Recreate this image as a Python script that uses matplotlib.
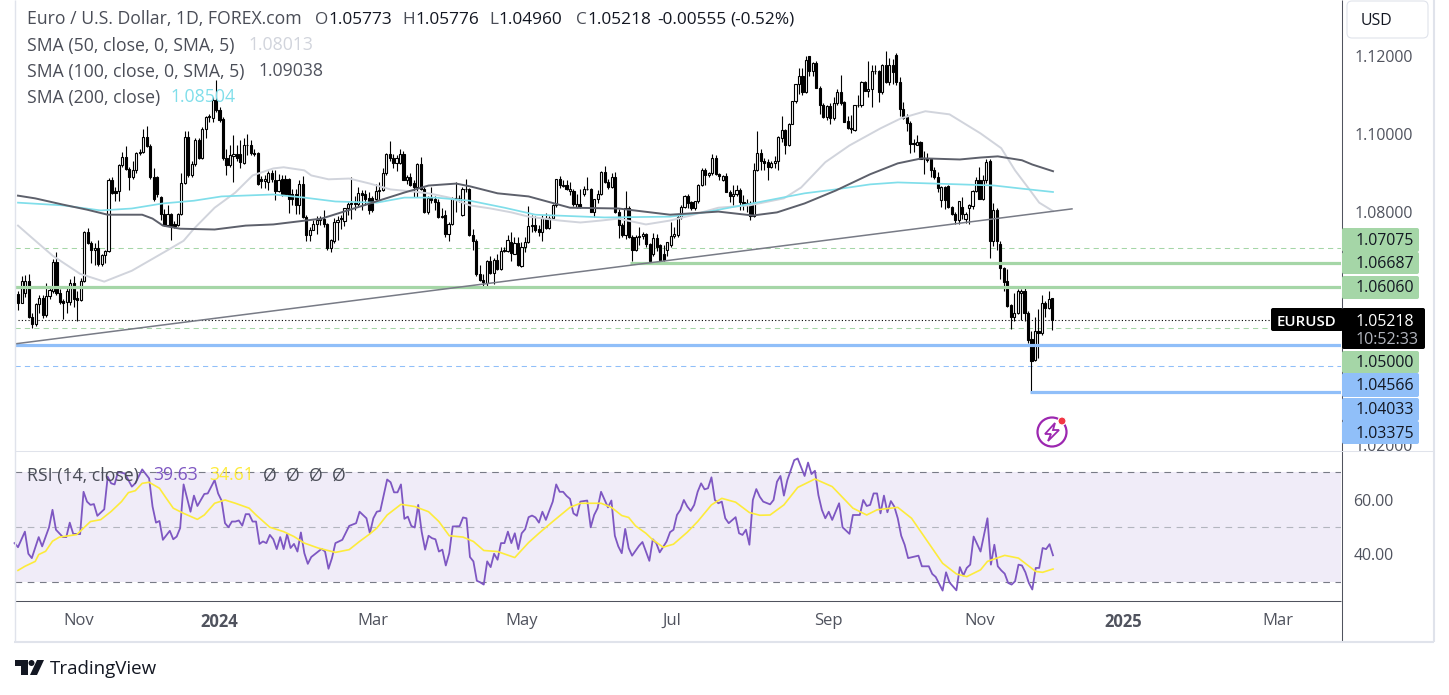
import numpy as np
import matplotlib
matplotlib.use("Agg")
import matplotlib.pyplot as plt
from matplotlib.patches import FancyBboxPatch, Polygon, Circle, Rectangle

plt.rcParams['font.family'] = ['Open Sans', 'DejaVu Sans']

opens = [1.0589,1.0566,1.0590,1.0621,1.0529,1.0511,1.0563,1.0578,1.0535,1.0584,
1.0597,1.0671,1.0591,1.0569,1.0567,1.0567,1.0616,1.0578,1.0572,1.0621,
1.0748,1.0720,1.0701,1.0707,1.0666,1.0688,1.0698,1.0880,1.0853,1.0853,
1.0919,1.0941,1.0910,1.0889,1.0906,1.0950,1.0954,1.0993,1.0969,1.0890,
1.0889,1.0838,1.0795,1.0766,1.0795,1.0768,1.0766,1.0795,1.0874,1.0993,
1.0893,1.0922,1.0984,1.0939,1.1012,1.1042,1.1040,1.1086,1.1061,1.1037,
1.0939,1.0919,1.0944,1.0947,1.0947,1.0925,1.0970,1.0970,1.0950,1.0950,
1.0885,1.0878,1.0876,1.0898,
1.0882,1.0853,1.0885,1.0883,1.0885,1.0844,1.0844,1.0817,1.0870,1.0786,
1.0739,1.0753,1.0769,1.0778,1.0782,1.0769,1.0707,1.0724,1.0772,1.0784,
1.0775,1.0808,1.0819,1.0820,1.0819,1.0849,1.0844,1.0835,1.0835,1.0833,
1.0853,1.0855,1.0898,1.0948,1.0937,1.0926,1.0926,1.0948,1.0882,1.0888,
1.0874,1.0862,1.0922,1.0859,1.0799,1.0836,1.0832,1.0825,1.0788,1.0790,
1.0743,1.0769,1.0835,1.0836,1.0790,1.0857,1.0857,1.0739,1.0724,1.0640,
1.0623,1.0616,1.0672,1.0642,1.0676,1.0653,1.0700,1.0698,1.0722,1.0692,
1.0719,1.0661,1.0709,1.0722,
1.0762,1.0766,1.0756,1.0747,1.0784,1.0759,1.0784,1.0816,1.0883,1.0866,
1.0868,1.0852,1.0852,1.0812,1.0819,1.0846,1.0857,1.0857,1.0799,1.0832,
1.0846,1.0903,1.0876,1.0863,1.0888,1.0799,1.0765,1.0739,1.0808,1.0735,
1.0702,1.0735,1.0736,1.0743,1.0717,1.0690,1.0733,1.0713,1.0690,1.0702,
1.0713,1.0738,1.0739,1.0786,1.0812,1.0839,1.0825,1.0810,1.0826,1.0868,
1.0907,1.0894,1.0898,1.0937,1.0896,1.0882,1.0891,1.0851,1.0839,1.0844,
1.0855,1.0825,1.0819,1.0822,1.0788,1.0908,1.0951,1.0931,1.0928,1.0915,
1.0926,1.0930,
1.0989,1.1010,1.0970,1.1026,1.1084,1.1127,1.1148,1.1108,1.1200,1.1161,
1.1181,1.1119,1.1075,1.1043,1.1071,1.1041,1.1080,1.1108,1.1083,1.1032,
1.1016,1.1009,1.1073,1.1073,1.1132,1.1111,1.1115,1.1161,1.1161,1.1108,
1.1178,1.1132,1.1176,1.1202,1.1132,1.1065,1.1043,1.1028,1.0976,1.0972,
1.0980,1.0936,1.0936,1.0934,1.0907,1.0888,1.0830,1.0862,1.0866,1.0811,
1.0795,1.0779,1.0813,1.0780,1.0808,1.0815,1.0854,1.0881,1.0832,1.0881,
1.0930,1.0725,1.0804,1.0717,1.0654,1.0622,1.0560,1.0528,1.0539,1.0592,
1.0595,1.0540,1.0472,1.0418,1.0493,1.0488,1.0565,1.0551,1.05773]

highs = [1.0595,1.0634,1.0638,1.0640,1.0540,1.0566,1.0586,1.0586,1.0616,1.0606,
1.0678,1.0695,1.0600,1.0576,1.0605,1.0627,1.0634,1.0595,1.0630,1.0750,
1.0758,1.0725,1.0720,1.0728,1.0690,1.0702,1.0887,1.0890,1.0864,1.0922,
1.0952,1.0969,1.0915,1.0930,1.0952,1.0960,1.1012,1.1019,1.0975,1.0913,
1.0892,1.0840,1.0806,1.0816,1.0797,1.0775,1.0797,1.0898,1.1008,1.1008,
1.0930,1.0990,1.0990,1.1017,1.1046,1.1052,1.1095,1.1138,1.1068,1.1043,
1.0960,1.0970,1.0996,1.0970,1.0983,1.0990,1.0999,1.0985,1.0962,1.0952,
1.0892,1.0893,1.0905,1.0908,
1.0906,1.0896,1.0895,1.0893,1.0887,1.0857,1.0857,1.0880,1.0891,1.0790,
1.0760,1.0778,1.0788,1.0788,1.0805,1.0771,1.0730,1.0784,1.0788,1.0790,
1.0808,1.0825,1.0889,1.0840,1.0862,1.0855,1.0855,1.0851,1.0840,1.0870,
1.0875,1.0913,1.0950,1.0982,1.0948,1.0945,1.0962,1.0956,1.0895,1.0898,
1.0880,1.0926,1.0941,1.0864,1.0840,1.0862,1.0840,1.0832,1.0808,1.0803,
1.0772,1.0838,1.0876,1.0842,1.0864,1.0885,1.0860,1.0756,1.0730,1.0664,
1.0640,1.0676,1.0687,1.0680,1.0690,1.0710,1.0709,1.0739,1.0747,1.0735,
1.0735,1.0722,1.0735,1.0814,
1.0790,1.0788,1.0766,1.0790,1.0796,1.0788,1.0820,1.0883,1.0891,1.0880,
1.0881,1.0876,1.0859,1.0846,1.0859,1.0866,1.0889,1.0860,1.0832,1.0855,
1.0905,1.0917,1.0885,1.0900,1.0902,1.0806,1.0770,1.0853,1.0814,1.0740,
1.0741,1.0760,1.0747,1.0746,1.0720,1.0745,1.0743,1.0716,1.0713,1.0722,
1.0773,1.0760,1.0790,1.0816,1.0842,1.0845,1.0828,1.0828,1.0870,1.0911,
1.0912,1.0903,1.0948,1.0945,1.0900,1.0893,1.0900,1.0855,1.0868,1.0868,
1.0860,1.0842,1.0833,1.0826,1.0925,1.1008,1.0960,1.0937,1.0935,1.0931,
1.0943,1.0994,
1.1047,1.1013,1.1028,1.1085,1.1129,1.1170,1.1170,1.1200,1.1200,1.1185,
1.1187,1.1122,1.1078,1.1075,1.1078,1.1095,1.1116,1.1152,1.1085,1.1047,
1.1049,1.1075,1.1100,1.1135,1.1135,1.1187,1.1176,1.1178,1.1163,1.1180,
1.1212,1.1194,1.1192,1.1207,1.1146,1.1082,1.1052,1.1032,1.0987,1.0996,
1.0982,1.0955,1.0950,1.0937,1.0914,1.0901,1.0865,1.0866,1.0869,1.0815,
1.0800,1.0828,1.0837,1.0800,1.0820,1.0855,1.0888,1.0914,1.0895,1.0936,
1.0936,1.0822,1.0809,1.0725,1.0657,1.0652,1.0562,1.0592,1.0601,1.0601,
1.0609,1.0545,1.0493,1.0529,1.0549,1.0586,1.0571,1.0596,1.05776]

lows = [1.0548,1.0564,1.0580,1.0526,1.0500,1.0507,1.0539,1.0526,1.0530,1.0575,
1.0592,1.0586,1.0563,1.0523,1.0539,1.0560,1.0556,1.0520,1.0570,1.0618,
1.0716,1.0668,1.0664,1.0659,1.0659,1.0668,1.0695,1.0845,1.0827,1.0827,
1.0915,1.0907,1.0855,1.0883,1.0900,1.0945,1.0950,1.0965,1.0883,1.0828,
1.0838,1.0778,1.0762,1.0764,1.0726,1.0758,1.0762,1.0792,1.0870,1.0890,
1.0890,1.0917,1.0936,1.0936,1.0988,1.1030,1.1030,1.1056,1.1030,1.0932,
1.0893,1.0915,1.0875,1.0930,1.0911,1.0922,1.0945,1.0945,1.0944,1.0869,
1.0860,1.0861,1.0855,1.0875,
1.0829,1.0850,1.0840,1.0842,1.0796,1.0816,1.0795,1.0793,1.0784,1.0724,
1.0724,1.0752,1.0743,1.0765,1.0760,1.0702,1.0696,1.0720,1.0726,1.0755,
1.0762,1.0790,1.0780,1.0805,1.0814,1.0803,1.0816,1.0795,1.0799,1.0831,
1.0829,1.0853,1.0895,1.0930,1.0911,1.0904,1.0922,1.0880,1.0870,1.0866,
1.0838,1.0838,1.0855,1.0797,1.0795,1.0821,1.0803,1.0784,1.0784,1.0735,
1.0724,1.0766,1.0800,1.0825,1.0788,1.0850,1.0737,1.0702,1.0635,1.0621,
1.0610,1.0608,1.0639,1.0615,1.0650,1.0650,1.0696,1.0695,1.0674,1.0690,
1.0660,1.0658,1.0695,1.0720,
1.0748,1.0748,1.0736,1.0725,1.0755,1.0756,1.0780,1.0813,1.0860,1.0862,
1.0855,1.0842,1.0815,1.0808,1.0808,1.0840,1.0855,1.0798,1.0785,1.0822,
1.0842,1.0874,1.0859,1.0860,1.0797,1.0733,1.0735,1.0730,1.0733,1.0673,
1.0700,1.0713,1.0730,1.0710,1.0672,1.0687,1.0700,1.0673,1.0673,1.0687,
1.0710,1.0733,1.0735,1.0782,1.0808,1.0808,1.0803,1.0805,1.0822,1.0866,
1.0868,1.0888,1.0895,1.0895,1.0882,1.0879,1.0850,1.0825,1.0816,1.0839,
1.0803,1.0803,1.0799,1.0779,1.0785,1.0905,1.0907,1.0907,1.0882,1.0911,
1.0911,1.0907,
1.0980,1.0948,1.0968,1.1024,1.1080,1.1103,1.1099,1.1105,1.1149,1.1149,
1.1117,1.1052,1.1040,1.1035,1.1026,1.1035,1.1075,1.1075,1.1030,1.1013,
1.1003,1.1006,1.1069,1.1070,1.1111,1.1095,1.1069,1.1155,1.1082,1.1103,
1.1130,1.1125,1.1129,1.1125,1.1046,1.1037,1.1006,1.0950,1.0953,1.0970,
1.0936,1.0897,1.0927,1.0888,1.0884,1.0851,1.0811,1.0807,1.0809,1.0790,
1.0768,1.0768,1.0781,1.0770,1.0768,1.0807,1.0850,1.0832,1.0830,1.0874,
1.0682,1.0712,1.0702,1.0626,1.0596,1.0556,1.0497,1.0519,1.0536,1.0522,
1.0519,1.0463,1.0335,1.0415,1.0424,1.0484,1.0528,1.0549,1.04960]

closes = [1.0566,1.0621,1.0621,1.0529,1.0511,1.0563,1.0578,1.0535,1.0584,1.0599,
1.0671,1.0591,1.0567,1.0565,1.0595,1.0616,1.0575,1.0573,1.0621,1.0748,
1.0720,1.0701,1.0707,1.0666,1.0688,1.0698,1.0880,1.0849,1.0849,1.0919,
1.0941,1.0910,1.0889,1.0906,1.0950,1.0954,1.0993,1.0969,1.0890,1.0833,
1.0846,1.0795,1.0766,1.0795,1.0762,1.0764,1.0795,1.0874,1.0993,1.0893,
1.0922,1.0984,1.0939,1.1012,1.1042,1.1046,1.1086,1.1061,1.1035,1.0939,
1.0919,1.0945,1.0947,1.0939,1.0927,1.0970,1.0972,1.0950,1.0948,1.0872,
1.0878,1.0885,1.0898,1.0885,
1.0853,1.0882,1.0844,1.0846,1.0833,1.0833,1.0817,1.0870,1.0786,1.0739,
1.0753,1.0769,1.0778,1.0783,1.0769,1.0707,1.0726,1.0772,1.0778,1.0780,
1.0808,1.0819,1.0821,1.0822,1.0849,1.0842,1.0833,1.0803,1.0805,1.0853,
1.0855,1.0898,1.0948,1.0937,1.0924,1.0937,1.0948,1.0882,1.0889,1.0868,
1.0862,1.0922,1.0859,1.0799,1.0836,1.0829,1.0825,1.0786,1.0786,1.0743,
1.0769,1.0835,1.0836,1.0835,1.0857,1.0858,1.0739,1.0724,1.0640,1.0623,
1.0618,1.0672,1.0642,1.0675,1.0653,1.0700,1.0702,1.0728,1.0693,1.0719,
1.0663,1.0709,1.0722,1.0762,
1.0766,1.0753,1.0747,1.0784,1.0759,1.0784,1.0816,1.0883,1.0868,1.0868,
1.0857,1.0857,1.0819,1.0819,1.0812,1.0857,1.0858,1.0799,1.0832,1.0846,
1.0903,1.0876,1.0863,1.0888,1.0799,1.0765,1.0739,1.0808,1.0735,1.0702,
1.0735,1.0736,1.0743,1.0717,1.0673,1.0733,1.0710,1.0676,1.0676,1.0722,
1.0738,1.0743,1.0786,1.0812,1.0839,1.0822,1.0810,1.0826,1.0868,1.0907,
1.0894,1.0898,1.0937,1.0896,1.0891,1.0891,1.0851,1.0839,1.0844,1.0855,
1.0825,1.0819,1.0822,1.0788,1.0908,1.0951,1.0931,1.0925,1.0915,1.0926,
1.0930,1.0991,
1.1010,1.0970,1.1026,1.1084,1.1127,1.1148,1.1108,1.1189,1.1161,1.1181,
1.1119,1.1075,1.1043,1.1071,1.1041,1.1080,1.1108,1.1080,1.1030,1.1016,
1.1013,1.1073,1.1074,1.1132,1.1111,1.1116,1.1161,1.1162,1.1108,1.1178,
1.1132,1.1176,1.1159,1.1132,1.1065,1.1041,1.1028,1.0974,1.0973,1.0980,
1.0936,1.0935,1.0932,1.0906,1.0888,1.0860,1.0862,1.0830,1.0811,1.0794,
1.0779,1.0826,1.0794,1.0795,1.0817,1.0854,1.0881,1.0832,1.0881,1.0927,
1.0725,1.0804,1.0725,1.0654,1.0620,1.0558,1.0528,1.0539,1.0596,1.0596,
1.0540,1.0471,1.0416,1.0493,1.0488,1.0565,1.0551,1.0575,1.05218]

sma50_bar = [0,4,10,18,25,33,43,48,51,57,63,68,74,77,83,85,90,96,102,108,114,119,125,131,137,143,148,157,163,169,174,182,189,195,203,212,222,227,234,241,250,256,263,270,279,285,289,293,296,300]
sma50 = [1.0764,1.0733,1.0687,1.0640,1.0620,1.0648,1.0699,1.0725,1.0756,1.0810,1.0849,1.0893,1.0911,1.0914,1.0906,1.0893,1.0883,1.0885,1.0872,1.0857,1.0852,1.0847,1.0836,1.0816,1.0808,1.0798,1.0787,1.0777,1.0772,1.0777,1.0782,1.0767,1.0777,1.0790,1.0810,1.0816,1.0834,1.0862,1.0927,1.0970,1.1014,1.1040,1.1058,1.1050,1.1001,1.0963,1.0906,1.0859,1.0823,1.08013]
sma100_bar = [0,5,13,20,26,36,39,42,47,57,66,74,88,102,112,119,127,131,139,148,160,174,189,203,213,220,228,237,247,255,262,273,279,284,291,294,300]
sma100 = [1.0841,1.0834,1.0818,1.0805,1.0792,1.0792,1.0782,1.0764,1.0756,1.0754,1.0764,1.0767,1.0782,1.0821,1.0849,1.0867,1.0872,1.0865,1.0847,1.0839,1.0810,1.0808,1.0792,1.0800,1.0790,1.0798,1.0821,1.0854,1.0896,1.0924,1.0937,1.0934,1.0939,1.0942,1.0932,1.0921,1.09038]
sma200_bar = [0,13,24,33,42,51,59,74,83,92,104,112,121,131,141,150,170,189,199,214,228,237,247,255,273,283,291,300]
sma200 = [1.0823,1.0816,1.0803,1.0808,1.0821,1.0828,1.0839,1.0844,1.0836,1.0826,1.0823,1.0836,1.0836,1.0828,1.0810,1.0792,1.0785,1.0787,1.0798,1.0823,1.0847,1.0857,1.0870,1.0875,1.0870,1.0867,1.0859,1.08504]

rsi_bar = [-1,0,2,3,4,6,7,9,10,11,13,14,15,16,18,19,20,21,22,23,25,26,27,28,29,31,33,34,36,38,39,40,41,42,44,45,46,47,48,50,51,52,54,55,57,58,59,60,61,62,63,64,65,66,67,68,69,70,71,72,73,74,75,76,77,78,79,80,81,82,83,84,85,87,88,89,90,91,92,94,96,98,99,101,102,103,104,105,107,108,109,110,111,112,113,114,115,116,117,118,119,120,121,122,123,124,125,126,128,129,130,131,132,133,134,135,136,137,138,139,140,141,142,143,144,145,146,147,148,
149,150,151,152,153,155,156,157,158,159,160,161,162,163,165,166,167,168,169,171,172,173,174,175,176,177,178,180,181,183,184,185,186,188,189,190,191,192,193,194,195,196,197,198,199,200,201,202,203,204,205,206,208,209,210,211,212,213,214,215,216,218,219,220,221,222,223,225,226,228,229,230,231,232,233,234,235,236,238,239,241,242,244,245,246,247,248,249,250,251,252,253,254,255,256,257,258,261,262,264,265,266,268,269,270,272,273,274,275,276,277,279,281,282,283,284,285,286,287,288,289,290,291,292,293,294,295,296,297,298,299,300]
rsi = [44.1,42.6,48.3,40.2,38.6,46.3,42.9,49.9,56.3,49.0,46.3,46.3,51.6,47.5,47.4,62.9,59.3,58.1,58.4,54.1,56.5,68.4,66.0,65.6,70.2,69.6,64.8,66.0,71.1,67.8,57.5,51.6,52.2,45.3,48.6,45.5,46.5,49.6,65.6,55.6,61.5,57.7,62.1,62.3,67.2,62.3,59.7,51.4,49.9,52.0,52.0,52.4,50.5,54.7,54.7,52.0,52.0,43.8,44.7,44.1,47.1,45.5,41.9,46.3,41.9,47.4,42.3,43.8,41.0,48.0,40.4,36.5,39.0,41.0,42.0,41.0,34.7,38.6,44.1,45.3,50.4,51.4,55.6,53.2,47.7,53.2,55.6,55.9,67.4,66.4,62.7,62.7,65.6,53.0,53.8,50.4,49.8,58.1,48.3,41.7,46.8,45.9,45.5,41.0,41.7,35.9,40.4,50.2,50.3,53.5,53.2,39.0,37.4,30.3,29.7,28.9,37.4,35.3,40.2,38.0,44.1,44.1,48.3,44.1,47.7,41.9,47.7,49.2,53.6,
54.2,53.5,51.6,55.6,52.6,59.3,65.6,62.9,62.9,61.4,60.3,55.0,54.1,59.3,59.7,49.9,54.4,56.9,62.9,57.2,59.7,46.8,42.9,40.4,49.3,42.3,39.5,43.1,44.5,37.6,45.5,44.1,40.7,44.7,48.1,49.0,54.4,56.3,59.9,57.5,55.9,58.1,62.9,66.0,63.8,64.2,68.2,59.9,58.7,59.3,53.2,51.4,53.6,47.7,47.1,49.0,43.5,59.9,63.9,61.1,59.3,58.3,59.9,66.6,68.7,61.5,67.2,74.5,75.1,68.7,73.6,69.4,70.6,61.7,56.3,53.2,55.6,52.6,58.7,49.9,47.5,54.4,54.4,59.9,57.7,58.1,62.3,62.3,55.0,61.5,55.4,59.5,57.5,53.2,46.8,43.5,38.6,39.5,35.6,35.6,32.8,31.7,26.7,33.4,29.7,26.8,35.3,32.2,35.0,36.2,46.5,41.0,53.2,36.2,43.5,35.6,34.1,32.9,29.5,28.9,30.1,36.2,35.9,33.4,29.5,27.1,35.0,35.0,42.3,41.9,43.7,39.63]

rsi_ma_bar = [0,2,5,6,8,10,12,17,19,21,24,27,30,32,34,36,38,41,43,45,48,52,54,57,60,63,67,69,73,77,80,83,87,92,96,99,102,104,107,111,115,119,122,125,129,132,135,139,144,148,151,155,160,163,169,172,175,177,179,182,184,187,190,194,197,201,204,208,212,215,218,222,226,231,236,242,246,249,255,259,262,265,268,272,275,279,281,286,290,295,297,300]
rsi_ma = [34.1,35.6,37.4,39.9,41.1,44.8,46.3,47.2,49.6,52.0,52.7,55.7,59.3,62.6,63.3,66.0,66.4,64.2,60.5,56.9,55.0,52.8,54.4,58.7,59.9,58.7,56.9,54.4,49.9,48.3,46.5,44.1,42.3,40.7,41.7,44.7,47.5,49.6,54.4,58.3,57.5,55.6,52.0,46.8,46.3,44.7,41.4,41.0,38.8,44.3,47.7,52.0,57.2,58.7,58.7,57.2,54.2,53.5,50.4,47.7,45.3,42.6,43.7,48.1,52.0,58.1,60.5,59.1,55.3,54.3,54.4,58.1,64.5,67.6,64.8,56.9,54.4,56.3,57.2,53.2,47.7,42.2,36.7,32.8,31.8,34.3,37.4,39.6,38.6,33.7,33.4,34.61]

time_ticks = [17.7,58.3,102.9,146,189.6,234.8,278.8,320.3,365.2]
time_labels = ['Nov','2024','Mar','May','Jul','Sep','Nov','2025','Mar']
price_ticks = [1.12,1.10,1.08,1.02]
rsi_ticks = [60,40]
tag_levels = ['1.07075','1.06687','1.06060','1.05000','1.04566','1.04033','1.03375']

W, H = 1449, 695
GREEN, BLUE = '#a5d6a7', '#90bff9'
INK, GREY, MUTE = '#131722', '#50535e', '#787b86'
XL = ((15 - 18) / 3.45, (1341 - 18) / 3.45)

fig = plt.figure(figsize=(W / 100, H / 100), dpi=100, facecolor='white')
def pane(top, bottom):
    return fig.add_axes([15 / W, 1 - bottom / H, (1341 - 15) / W, (bottom - top) / H])

ax = pane(0, 450)
ar = pane(451, 600)
for a in (ax, ar):
    a.set_xlim(*XL)
    for s in a.spines.values():
        s.set_visible(False)
    a.set_facecolor('white')
    a.yaxis.tick_right()
ax.set_ylim(1.12 - 394 / 3890, 1.12 + 56 / 3890)
ar.set_ylim(23.25, 77.85)

N = len(closes)
step = 1034 / ((N - 1) * 3.45)
xs = 299.8 - step * (N - 1 - np.arange(N))
o, h, l, c = map(np.array, (opens, highs, lows, closes))
ax.vlines(xs, l, h, color='black', lw=0.8, zorder=2)
up = c >= o
ax.bar(xs, np.maximum(np.abs(c - o), 0.00008), bottom=np.minimum(o, c), width=0.62,
       color=np.where(up, 'white', 'black'), edgecolor='black', linewidth=0.8, zorder=3)

# moving averages
ax.plot(sma50_bar, sma50, color='#d1d4dc', lw=1.4, zorder=4)
ax.plot(sma200_bar, sma200, color='#80deea', lw=1.25, zorder=4)
ax.plot(sma100_bar, sma100, color='#5d606b', lw=1.4, zorder=4)

# drawn levels
ax.hlines(1.0606, XL[0], XL[1], color=GREEN, lw=2.3, zorder=5)
ax.hlines(1.06687, 177.5, XL[1], color=GREEN, lw=2.3, zorder=5)
ax.hlines(1.04566, XL[0], XL[1], color=BLUE, lw=2.3, zorder=5)
ax.hlines(1.03375, 293.3, XL[1], color=BLUE, lw=2.3, zorder=5)
ax.hlines([1.07075, 1.05], XL[0], XL[1], color=GREEN, lw=0.75, linestyles=(0, (5, 4)), zorder=1)
ax.hlines(1.04033, XL[0], XL[1], color=BLUE, lw=0.75, linestyles=(0, (5, 4)), zorder=1)
ax.hlines(1.05218, 0, XL[1], color='black', lw=0.8, linestyles=(0, (1, 2)), zorder=1)
ax.plot([XL[0], 305.5], [1.0460, 1.0807], color='#787b86', lw=1.1, zorder=5)

ax.set_xticks([])
ax.set_yticks(price_ticks, [f'{v:.5f}' for v in price_ticks])
ax.tick_params(axis='y', length=0, pad=10, labelsize=11.4, labelcolor=GREY)

# RSI
ar.axhspan(30, 70, color='#f0ecf8', lw=0, zorder=0)
ar.hlines([70, 30], *XL, color=MUTE, lw=0.8, linestyles=(0, (6, 5)), zorder=1)
ar.hlines(50, *XL, color='#b2b5be', lw=0.8, linestyles=(0, (6, 5)), zorder=1)
ar.plot(rsi_bar, rsi, color='#7e57c2', lw=1.3, zorder=3, clip_on=False)
ar.plot(rsi_ma_bar, rsi_ma, color='#fdeb3b', lw=1.2, zorder=4)
ar.set_yticks(rsi_ticks, [f'{v:.2f}' for v in rsi_ticks])
ar.set_xticks(time_ticks, time_labels)
ar.tick_params(axis='y', length=0, pad=9, labelsize=11.4, labelcolor=GREY)
ar.tick_params(axis='x', length=0, pad=9.5, labelsize=12, labelcolor=GREY)
ar.get_xticklabels()[1].set_fontweight('bold')
ar.get_xticklabels()[7].set_fontweight('bold')

# chrome in pixel coordinates
ov = fig.add_axes([0, 0, 1, 1], zorder=10)
ov.set_xlim(0, W)
ov.set_ylim(H, 0)
ov.axis('off')
ov.patch.set_alpha(0)

def rule(x0, y0, x1, y1, col, lw=0.75):
    ov.plot([x0, x1], [y0, y1], color=col, lw=lw, solid_capstyle='butt')
rule(1341.5, 0, 1341.5, 641, GREY)
rule(15, 450.5, 1433, 450.5, '#e0e3eb')
rule(15, 600.5, 1341, 600.5, GREY)
rule(14, 642, 1434, 642, '#e0e3eb', 1.5)
rule(14.5, 0, 14.5, 642, '#e0e3eb', 1.0)
rule(1433.5, 0, 1433.5, 642, '#e0e3eb', 1.5)

def box(x0, y0, x1, y1, fc, ec='none', r=2):
    ov.add_patch(FancyBboxPatch((x0 + r, y0 + r), x1 - x0 - 2 * r, y1 - y0 - 2 * r,
                                boxstyle=f'round,pad={r},rounding_size={r}', fc=fc, ec=ec, lw=0.8, zorder=3))
def t(x, y, s, col=INK, size=12.7, ha='left', **kw):
    ov.text(x, y + 2.5, s, color=col, fontsize=size, ha=ha, va='center', zorder=5, **kw)

box(1347, 1, 1428, 38, 'white', '#e0e3eb', 5)
t(1376, 18.5, 'USD', INK, 11.4, 'center')

tag_y = [(228, 252, GREEN), (252, 274, GREEN), (276, 299, GREEN), (351, 373, GREEN),
         (373, 397, BLUE), (398, 421, BLUE), (421, 444, BLUE)]
for lab, (y0, y1, col) in zip(tag_levels, tag_y):
    box(1342, y0, 1419, y1, col)
    t(1384.5, (y0 + y1) / 2 - 1.5, lab, INK, 11.4, 'center')
box(1342, 308, 1425, 349, 'black')
t(1384.5, 319, '1.05218', 'white', 11.4, 'center')
t(1387.5, 338, '10:52:33', '#b2b5be', 11.6, 'center')
box(1271, 308, 1343, 331, 'black')
t(1306, 319, 'EURUSD', 'white', 10.8, 'center', fontweight='semibold')

# legends
L = '#4a4d57'
t(27, 17, 'Euro / U.S. Dollar, 1D, FOREX.com', L)
for x, a_, b_ in [(315, 'O', '1.05773'), (402, 'H', '1.05776'), (489, 'L', '1.04960'), (576, 'C', '1.05218')]:
    w = {'O': 13, 'H': 13, 'L': 9, 'C': 11}[a_]
    t(x, 17, a_, L, 12.4)
    t(x + w, 17, b_, INK, 12.4)
t(657, 17, '-0.00555', INK, 12.4)
t(730, 17, '(-0.52%)', INK, 12.4)
t(27, 43, 'SMA (50, close, 0, SMA, 5)', L); t(248, 43, '1.08013', '#d1d4dc')
t(27, 69, 'SMA (100, close, 0, SMA, 5)', L); t(258, 69, '1.09038', GREY)
t(27, 95, 'SMA (200, close)', L); t(170, 95, '1.08504', '#80deea')
t(27, 473, 'RSI (14, close)', L)
t(153, 473, '39.63', '#7e57c2'); t(209, 473, '34.61', '#fdeb3b')
for x in (263, 286, 309, 332):
    t(x, 473, 'Ø', L)

# logo
ov.add_patch(Polygon([(15, 660), (28, 660), (28, 675), (21, 675), (21, 666), (15, 666)], fc=INK, ec='none'))
ov.add_patch(Circle((31.5, 663), 3, fc=INK, ec='none'))
ov.add_patch(Polygon([(37, 660), (44, 660), (37, 675), (30, 675)], fc=INK, ec='none'))
t(50, 666.5, 'TradingView', INK, 13.5)

# flash icon
ov.add_patch(Circle((1052, 432), 14.5, fc='white', ec='#9c27b0', lw=1.6, zorder=6))
ov.add_patch(Polygon([(1055, 423), (1045, 434), (1051, 434), (1048, 441), (1059, 430), (1053, 430)],
                     fc='white', ec='#9c27b0', lw=1.3, zorder=7))
ov.add_patch(Circle((1062, 421), 4, fc='#f23645', ec='white', lw=0.8, zorder=8))

fig.savefig('out.png', dpi=100)
